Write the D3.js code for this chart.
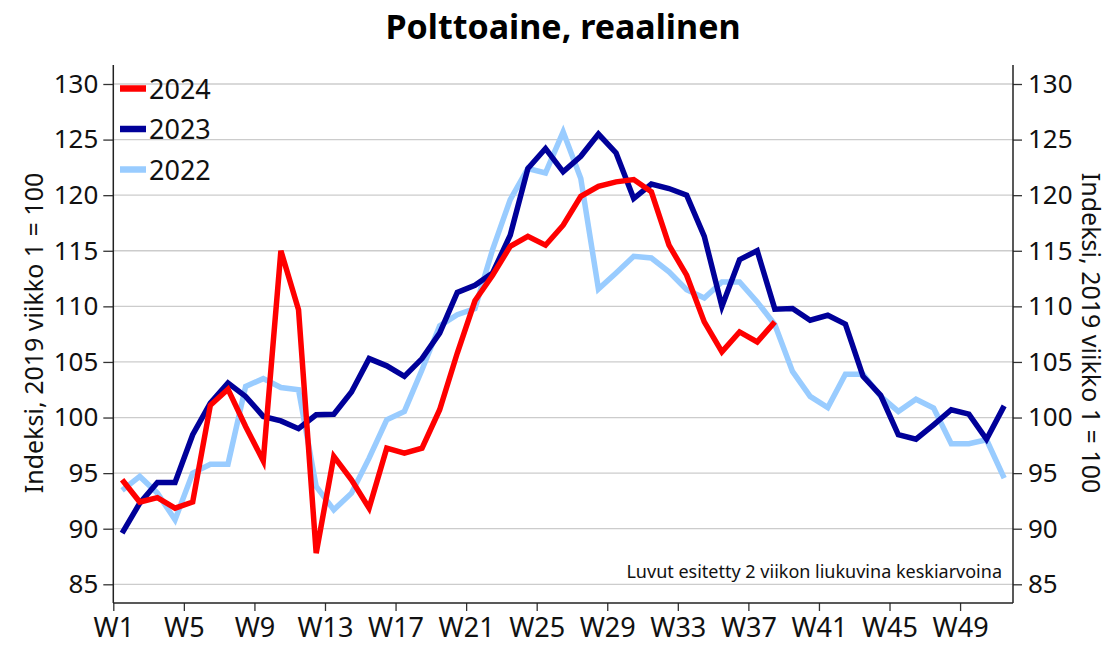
<!DOCTYPE html>
<html><head><meta charset="utf-8">
<script src="https://cdn.jsdelivr.net/npm/d3@7"></script>
<style>
body{margin:0;background:#fff;}
svg{display:block;font-family:"Noto Sans",sans-serif;}
</style></head>
<body><svg id="c" width="1110" height="645"></svg>
<script>
const weeks = d3.range(1, 52).map(d => "W" + d);
const xTickWeeks = [1,5,9,13,17,21,25,29,33,37,41,45,49];
const yTicks = [85,90,95,100,105,110,115,120,125,130];
const s2024 = [94.4,92.4,92.8,91.85,92.4,101.1,102.55,99.2,96.1,115.0,109.7,87.8,96.5,94.4,91.85,97.25,96.8,97.25,100.7,105.8,110.5,112.8,115.4,116.3,115.5,117.3,119.9,120.8,121.2,121.4,120.3,115.5,112.8,108.6,105.9,107.7,106.8,108.6];
const s2023 = [89.6,92.3,94.15,94.15,98.45,101.3,103.1,101.9,100.1,99.7,99.0,100.25,100.3,102.3,105.3,104.65,103.7,105.3,107.6,111.25,111.9,113.0,116.4,122.4,124.2,122.1,123.5,125.5,123.8,119.7,121.0,120.6,120.0,116.3,110.0,114.2,115.0,109.75,109.8,108.75,109.2,108.4,103.7,102.0,98.45,98.05,99.35,100.7,100.3,98.05,101.05];
const s2022 = [93.45,94.7,93.2,90.8,95.0,95.8,95.8,102.8,103.5,102.7,102.5,93.8,91.7,93.2,96.35,99.8,100.55,104.3,108.25,109.25,109.8,115.1,119.6,122.4,122.0,125.7,121.5,111.55,113.0,114.5,114.35,113.1,111.5,110.75,112.2,112.2,110.4,108.35,104.15,101.9,100.9,103.9,103.9,101.9,100.55,101.65,100.85,97.65,97.65,98.0,94.55];
const seriesNames = ["2024","2023","2022"];
const seriesColors = ["#ff0000","#000099","#99ccff"];

const svg = d3.select("#c");
const L = 113.3, R = 1013, T = 65, B = 603;
const x = d3.scaleLinear().domain([1, 52]).range([L, R]);
const y = d3.scaleLinear().domain([85, 130]).range([584.3, 84]);

// gridlines
svg.append("g").selectAll("line").data(yTicks).join("line")
  .attr("x1", L).attr("x2", R).attr("y1", d => y(d)).attr("y2", d => y(d))
  .attr("stroke", "#cccccc").attr("stroke-width", 1.3);

// axes
const axStyle = g => {
  g.select(".domain").remove();
  g.selectAll(".tick line").attr("stroke", "#333").attr("stroke-width", 1.3);
  g.selectAll(".tick text").attr("fill", "#111").style("font-size", "26px").style("font-family", "'Noto Sans',sans-serif");
};
svg.append("g").attr("transform", `translate(${L},0)`)
  .call(d3.axisLeft(y).tickValues(yTicks).tickSize(10).tickPadding(5)).call(axStyle);
svg.append("g").attr("transform", `translate(${R},0)`)
  .call(d3.axisRight(y).tickValues(yTicks).tickSize(9).tickPadding(6)).call(axStyle);
svg.append("g").attr("transform", `translate(0,${B})`)
  .call(d3.axisBottom(x).tickValues(xTickWeeks).tickFormat(d => "W" + d).tickSize(8).tickPadding(7)).call(axStyle)
  .call(g => g.selectAll(".tick text").style("font-size", "27px"));

// axis lines
svg.append("line").attr("x1", L).attr("x2", L).attr("y1", T).attr("y2", B).attr("stroke", "#222").attr("stroke-width", 1.5);
svg.append("line").attr("x1", R).attr("x2", R).attr("y1", T).attr("y2", B).attr("stroke", "#222").attr("stroke-width", 1.5);
svg.append("line").attr("x1", L).attr("x2", R).attr("y1", B).attr("y2", B).attr("stroke", "#222").attr("stroke-width", 1.5);

// lines
const line = d3.line().x((d, i) => x(i + 1.5)).y(d => y(d));
const data = [s2022, s2023, s2024];
const cols = [seriesColors[2], seriesColors[1], seriesColors[0]];
svg.append("g").selectAll("path").data(data).join("path")
  .attr("d", line).attr("fill", "none")
  .attr("stroke", (d, i) => cols[i]).attr("stroke-width", 5.5)
  .attr("stroke-linejoin", "miter").attr("stroke-linecap", "butt");

// legend
const lg = svg.append("g");
seriesNames.forEach((n, i) => {
  const yy = 88.5 + i * 40.5;
  lg.append("line").attr("x1", 120).attr("x2", 146).attr("y1", yy).attr("y2", yy)
    .attr("stroke", seriesColors[i]).attr("stroke-width", 6.5);
  lg.append("text").attr("x", 149).attr("y", yy + 10).text(n)
    .style("font-size", "27px").attr("fill", "#111");
});

// title
svg.append("text").attr("x", 563).attr("y", 39).attr("text-anchor", "middle")
  .style("font-size", "34px").style("font-weight", "bold").attr("fill", "#000")
  .text("Polttoaine, reaalinen");

// axis titles
const yTitle = "Indeksi, 2019 viikko 1 = 100";
svg.append("text").attr("transform", "translate(43,333) rotate(-90)").attr("text-anchor", "middle")
  .style("font-size", "25px").attr("fill", "#111").text(yTitle);
svg.append("text").attr("transform", "translate(1082,333) rotate(90)").attr("text-anchor", "middle")
  .style("font-size", "25px").attr("fill", "#111").text(yTitle);

// note
svg.append("text").attr("x", 1002).attr("y", 578).attr("text-anchor", "end")
  .style("font-size", "18px").attr("fill", "#111").text("Luvut esitetty 2 viikon liukuvina keskiarvoina");
</script></body></html>
